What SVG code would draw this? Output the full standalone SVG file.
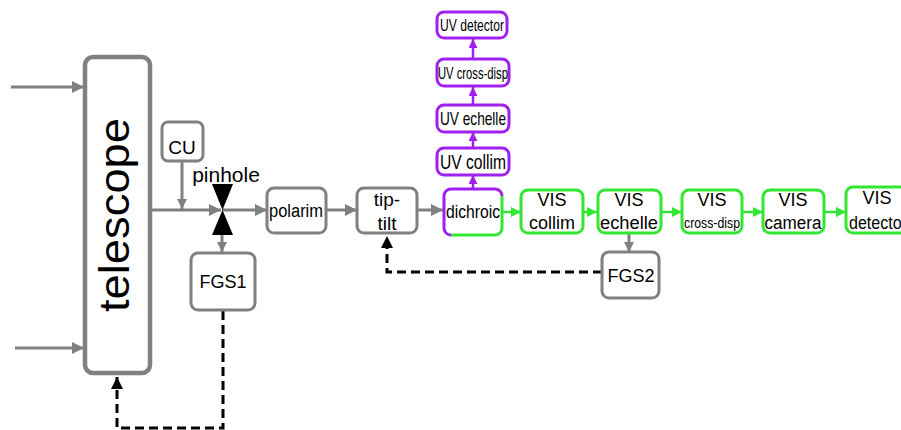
<svg xmlns="http://www.w3.org/2000/svg" width="901" height="430" viewBox="0 0 901 430">
<style>
text{font-family:"Liberation Sans",Arial,sans-serif;fill:#000;text-anchor:middle}
.g{fill:#fff;stroke:#808080;stroke-width:3}
.p{fill:#fff;stroke:#a020f0;stroke-width:3}
.v{fill:#fff;stroke:#33e633;stroke-width:3}
.lg{stroke:#808080;stroke-width:3;fill:none}
.lp{stroke:#a020f0;stroke-width:2.5;fill:none}
.lv{stroke:#33e633;stroke-width:2.5;fill:none}
.ld{stroke:#000;stroke-width:3;fill:none;stroke-dasharray:9,5}
</style>
<defs>
<marker id="ag" markerUnits="userSpaceOnUse" viewBox="0 0 10 10" refX="10" refY="5" markerWidth="14" markerHeight="12" orient="auto"><path d="M0,0L10,5L0,10z" fill="#808080"/></marker>
<marker id="ags" markerUnits="userSpaceOnUse" viewBox="0 0 10 10" refX="10" refY="5" markerWidth="11" markerHeight="10" orient="auto"><path d="M0,0L10,5L0,10z" fill="#808080"/></marker>
<marker id="ak" markerUnits="userSpaceOnUse" viewBox="0 0 10 10" refX="10" refY="5" markerWidth="13" markerHeight="12" orient="auto"><path d="M0,0L10,5L0,10z" fill="#000"/></marker>
<marker id="ap" markerUnits="userSpaceOnUse" viewBox="0 0 10 10" refX="10" refY="5" markerWidth="9" markerHeight="9" orient="auto"><path d="M0,0L10,5L0,10z" fill="#a020f0"/></marker>
<marker id="av" markerUnits="userSpaceOnUse" viewBox="0 0 10 10" refX="10" refY="5" markerWidth="10" markerHeight="10" orient="auto"><path d="M0,0L10,5L0,10z" fill="#33e633"/></marker>
</defs>

<g id="connectors">
<line class="lg" x1="11" y1="87" x2="84" y2="87" marker-end="url(#ag)"/>
<line class="lg" x1="15" y1="348" x2="84" y2="348" marker-end="url(#ag)"/>
<line class="lg" x1="151" y1="210" x2="221" y2="210" marker-end="url(#ag)"/>
<line class="lg" x1="182" y1="161" x2="182" y2="209" marker-end="url(#ags)"/>
<line class="lg" x1="222" y1="210" x2="267" y2="210" marker-end="url(#ag)"/>
<line class="lg" x1="222" y1="233" x2="222" y2="252" marker-end="url(#ags)"/>
<line class="lg" x1="326" y1="210" x2="357" y2="210" marker-end="url(#ag)"/>
<line class="lg" x1="417" y1="210" x2="443" y2="210" marker-end="url(#ag)"/>
<line class="lg" x1="629" y1="234" x2="629" y2="252" marker-end="url(#ags)"/>
<path class="ld" d="M223,311V428H117V377" marker-end="url(#ak)"/>
<path class="ld" d="M602,272H387V236" marker-end="url(#ak)"/>
<line class="lp" x1="473" y1="188" x2="473" y2="175" marker-end="url(#ap)"/>
<line class="lp" x1="473" y1="148" x2="473" y2="132" marker-end="url(#ap)"/>
<line class="lp" x1="473" y1="105" x2="473" y2="87" marker-end="url(#ap)"/>
<line class="lp" x1="473" y1="58" x2="473" y2="39" marker-end="url(#ap)"/>
<line class="lv" x1="502" y1="212" x2="521" y2="212" marker-end="url(#av)"/>
<line class="lv" x1="583" y1="212" x2="597" y2="212" marker-end="url(#av)"/>
<line class="lv" x1="661" y1="212" x2="682" y2="212" marker-end="url(#av)"/>
<line class="lv" x1="742" y1="212" x2="763" y2="212" marker-end="url(#av)"/>
<line class="lv" x1="824" y1="212" x2="846" y2="212" marker-end="url(#av)"/>
</g>

<g id="telescope">
<rect x="85" y="57" width="65" height="316" rx="8" fill="#fff" stroke="#808080" stroke-width="4.5"/>
<text transform="translate(129,215) rotate(-90)" font-size="43" textLength="194" lengthAdjust="spacingAndGlyphs">telescope</text>
</g>
<g id="CU">
<rect class="g" x="162" y="122" width="41" height="39" rx="6"/>
<text x="182" y="154" font-size="19">CU</text>
</g>
<g id="pinhole">
<path d="M212,184H233L222.5,210z" fill="#000"/>
<path d="M222.5,210L233,235H212z" fill="#000"/>
<text x="226" y="182" font-size="21">pinhole</text>
</g>
<g id="FGS1">
<rect class="g" x="191" y="253" width="64" height="57" rx="7"/>
<text x="223" y="288" font-size="18">FGS1</text>
</g>
<g id="polarim">
<rect class="g" x="267" y="188" width="59" height="45" rx="7"/>
<text x="296" y="217" font-size="18" textLength="54" lengthAdjust="spacingAndGlyphs">polarim</text>
</g>
<g id="tiptilt">
<rect class="g" x="357" y="188" width="60" height="45" rx="7"/>
<text x="387" y="206" font-size="19">tip-</text>
<text x="387" y="230" font-size="19">tilt</text>
</g>
<g id="dichroic">
<rect x="444" y="189" width="58" height="46" rx="7" fill="#fff"/>
<path d="M451,235A7,7 0 0 1 444,228V196A7,7 0 0 1 451,189H495A7,7 0 0 1 502,196" fill="none" stroke="#a020f0" stroke-width="3"/>
<path d="M502,196V228A7,7 0 0 1 495,235H451" fill="none" stroke="#33e633" stroke-width="3"/>
<text x="473" y="218" font-size="18" textLength="54" lengthAdjust="spacingAndGlyphs">dichroic</text>
</g>
<g id="UVcollim">
<rect class="p" x="437" y="148" width="72" height="27" rx="7"/>
<text x="473" y="169" font-size="20" textLength="66" lengthAdjust="spacingAndGlyphs">UV collim</text>
</g>
<g id="UVechelle">
<rect class="p" x="437" y="105" width="72" height="27" rx="7"/>
<text x="473" y="125" font-size="19" textLength="66" lengthAdjust="spacingAndGlyphs">UV echelle</text>
</g>
<g id="UVcrossdisp">
<rect class="p" x="437" y="59" width="72" height="27" rx="7"/>
<text x="473" y="79" font-size="17" textLength="70" lengthAdjust="spacingAndGlyphs">UV cross-disp</text>
</g>
<g id="UVdetector">
<rect class="p" x="437" y="12" width="70" height="26" rx="7"/>
<text x="472" y="31" font-size="17" textLength="64" lengthAdjust="spacingAndGlyphs">UV detector</text>
</g>
<g id="VIScollim">
<rect class="v" x="521" y="190" width="62" height="43" rx="7"/>
<text x="552" y="206" font-size="18">VIS</text>
<text x="552" y="229" font-size="18">collim</text>
</g>
<g id="VISechelle">
<rect class="v" x="598" y="190" width="63" height="43" rx="7"/>
<text x="629" y="206" font-size="18">VIS</text>
<text x="629" y="229" font-size="18" textLength="58" lengthAdjust="spacingAndGlyphs">echelle</text>
</g>
<g id="VIScrossdisp">
<rect class="v" x="682" y="190" width="60" height="43" rx="7"/>
<text x="712" y="206" font-size="18">VIS</text>
<text x="712" y="228" font-size="15" textLength="56" lengthAdjust="spacingAndGlyphs">cross-disp</text>
</g>
<g id="VIScamera">
<rect class="v" x="763" y="190" width="61" height="43" rx="7"/>
<text x="793" y="206" font-size="18">VIS</text>
<text x="793" y="229" font-size="18" textLength="57" lengthAdjust="spacingAndGlyphs">camera</text>
</g>
<g id="VISdetector">
<rect class="v" x="846" y="187" width="68" height="46" rx="7"/>
<text x="877" y="204" font-size="18">VIS</text>
<text x="878" y="229" font-size="18" textLength="58" lengthAdjust="spacingAndGlyphs">detector</text>
</g>
<g id="FGS2">
<rect class="g" x="602" y="252" width="57" height="46" rx="7"/>
<text x="631" y="282" font-size="18">FGS2</text>
</g>
</svg>
